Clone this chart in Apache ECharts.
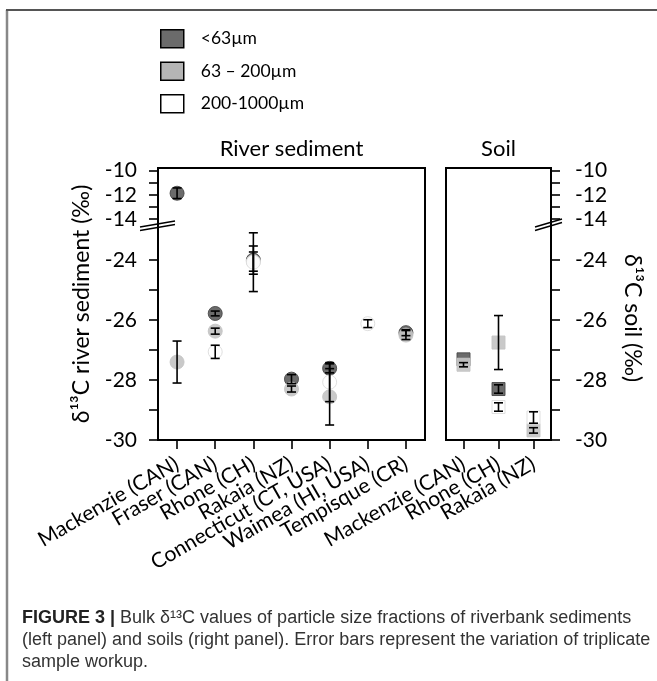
<!DOCTYPE html>
<html>
<head>
<meta charset="utf-8">
<script src="https://cdn.jsdelivr.net/npm/echarts@6/dist/echarts.min.js"></script>
<style>
html, body { margin: 0; padding: 0; background: #fff; }
#main { width: 657px; height: 681px; }
</style>
</head>
<body>
<div id="main"></div>
<script>
var riverCats = ['Mackenzie (CAN)', 'Fraser (CAN)', 'Rhone (CH)', 'Rakaia (NZ)',
    'Connecticut (CT, USA)', 'Waimea (HI, USA)', 'Tempisque (CR)'];
var soilCats = ['Mackenzie (CAN)', 'Rhone (CH)', 'Rakaia (NZ)'];
var fractions = ['<63µm', '63 – 200µm', '200-1000µm'];

// river sediment, mean and error per fraction
var riverFine = [-11.87, -25.78, -24.0, -27.97, -27.61, null, -26.42];
var riverFineErr = [0.44, 0.08, 0.47, 0.15, 0.15, null, 0.1];
var riverMid = [-27.4, -26.37, -24.05, -28.3, -28.56, null, -26.5];
var riverMidErr = [0.7, 0.1, 0.32, 0.1, 0.94, null, 0.15];
var riverCoarse = [null, -27.06, -24.07, null, -28.07, -26.12, null];
var riverCoarseErr = [null, 0.22, 0.98, null, 0.65, 0.13, null];

// soil
var soilFine = [-27.31, -28.3, null];
var soilFineErr = [null, 0.14, null];
var soilMid = [-27.49, -26.75, -29.68];
var soilMidErr = [0.07, 0.9, 0.09];
var soilCoarse = [null, -28.9, -29.25];
var soilCoarseErr = [null, 0.14, 0.19];

var upperTicks = [-14, -13, -12, -11, -10];
var upperLabels = [-14, -12, -10];
var lowerTicks = [-30, -29, -28, -27, -26, -25, -24];
var lowerLabels = [-30, -28, -26, -24];

var FONT = 'Lato, "DejaVu Sans"';
var BREAK = -20;
var colors = ['#5e5e5e', '#c4c4c4', '#ffffff'];
var borders = ['#4a4a4a', '#c4c4c4', '#dcdcdc'];

function points(vals, upper) {
    var out = [];
    vals.forEach(function (v, i) {
        if (v == null) return;
        if ((v > BREAK) === upper) out.push([i, v]);
    });
    return out;
}
function bars(vals, errs, upper) {
    var out = [];
    vals.forEach(function (v, i) {
        if (v == null || errs[i] == null) return;
        if ((v > BREAK) === upper) out.push([i, v - errs[i], v + errs[i]]);
    });
    return out;
}
function renderErr(params, api) {
    var x = api.value(0);
    var a = api.coord([x, api.value(2)]);
    var b = api.coord([x, api.value(1)]);
    var w = 4.5;
    var st = { stroke: '#000', lineWidth: 1.6 };
    return {
        type: 'group',
        children: [
            { type: 'line', shape: { x1: a[0], y1: a[1], x2: b[0], y2: b[1] }, style: st },
            { type: 'line', shape: { x1: a[0] - w, y1: a[1], x2: a[0] + w, y2: a[1] }, style: st },
            { type: 'line', shape: { x1: b[0] - w, y1: b[1], x2: b[0] + w, y2: b[1] }, style: st }
        ]
    };
}

var river = [[riverFine, riverFineErr], [riverMid, riverMidErr], [riverCoarse, riverCoarseErr]];
var soil = [[soilFine, soilFineErr], [soilMid, soilMidErr], [soilCoarse, soilCoarseErr]];

var series = [];
[false, true].forEach(function (isSoil) {
    var set = isSoil ? soil : river;
    [true, false].forEach(function (upper) {
        var idx = (isSoil ? 3 : 0) + (upper ? 1 : 2);
        set.forEach(function (f, k) {
            series.push({
                name: fractions[k],
                type: 'scatter',
                xAxisIndex: idx, yAxisIndex: idx,
                symbol: isSoil ? 'rect' : 'circle',
                symbolSize: isSoil ? 13 : 14,
                itemStyle: { color: colors[k], borderColor: borders[k], borderWidth: 1, opacity: 0.92 },
                z: 2,
                data: points(f[0], upper)
            });
        });
        set.forEach(function (f, k) {
            series.push({
                type: 'custom',
                xAxisIndex: idx, yAxisIndex: idx,
                renderItem: renderErr,
                encode: { x: 0, y: [1, 2] },
                z: 3,
                data: bars(f[0], f[1], upper)
            });
        });
    });
});

var tickStyle = { color: '#000', width: 1.6 };
var labelStyle = { fontFamily: FONT, fontSize: 21, color: '#000' };

function valueAxis(grid, upper, right) {
    return {
        type: 'value', gridIndex: grid,
        position: right ? 'right' : 'left',
        min: upper ? -14.5 : -30,
        max: upper ? -9.78 : -22.83,
        axisLine: { show: false },
        splitLine: { show: false },
        axisTick: { show: true, length: 9, lineStyle: tickStyle, customValues: upper ? upperTicks : lowerTicks },
        axisLabel: Object.assign({ margin: right ? 24 : 21, customValues: upper ? upperLabels : lowerLabels }, labelStyle)
    };
}
function frameY(grid, name, right) {
    return {
        type: 'value', gridIndex: grid, min: 0, max: 1,
        position: right ? 'right' : 'left',
        axisLine: { show: false }, axisTick: { show: false },
        axisLabel: { show: false }, splitLine: { show: false },
        name: name, nameLocation: 'middle',
        nameGap: right ? 70 : 65,
        nameRotate: right ? -90 : 90,
        nameTextStyle: { fontFamily: FONT, fontSize: 23, color: '#000', padding: right ? [0, 0, 0, 28] : 0 }
    };
}
function catAxis(grid, cats, visible) {
    if (!visible) return { type: 'category', gridIndex: grid, data: cats, show: false };
    return {
        type: 'category', gridIndex: grid, data: cats,
        axisLine: { show: false },
        axisTick: { show: true, alignWithLabel: true, interval: 0, length: 9, lineStyle: tickStyle },
        axisLabel: { interval: 0, rotate: 30, margin: 22, fontFamily: FONT, fontSize: 21, color: '#000' }
    };
}

var frameStyle = { show: true, borderColor: '#000', borderWidth: 2, backgroundColor: 'transparent' };
var titleStyle = { fontFamily: FONT, fontSize: 22, fontWeight: 'normal', color: '#000' };

var option = {
    animation: false,
    backgroundColor: '#fff',
    title: [
        { text: 'River sediment', left: 291.5, top: 138, textAlign: 'center', padding: 0, textStyle: titleStyle },
        { text: 'Soil', left: 498.5, top: 138, textAlign: 'center', padding: 0, textStyle: titleStyle }
    ],
    legend: {
        orient: 'vertical', left: 160, top: 29, padding: 0,
        itemWidth: 23, itemHeight: 18, itemGap: 13,
        selectedMode: false,
        textStyle: { fontFamily: FONT, fontSize: 17.5, color: '#000', lineHeight: 18, padding: [0, 0, 0, 12] },
        data: [
            { name: fractions[0], icon: 'rect', itemStyle: { color: '#6b6b6b', borderColor: '#000', borderWidth: 1.5, opacity: 1 } },
            { name: fractions[1], icon: 'rect', itemStyle: { color: '#b5b5b5', borderColor: '#000', borderWidth: 1.5, opacity: 1 } },
            { name: fractions[2], icon: 'rect', itemStyle: { color: '#ffffff', borderColor: '#000', borderWidth: 1.5, opacity: 1 } }
        ]
    },
    grid: [
        Object.assign({ left: 158, top: 168, width: 267, height: 272 }, frameStyle),
        { left: 158, top: 168, width: 267, height: 57 },
        { left: 158, top: 225, width: 267, height: 215 },
        Object.assign({ left: 446, top: 168, width: 105, height: 272 }, frameStyle),
        { left: 446, top: 168, width: 105, height: 57 },
        { left: 446, top: 225, width: 105, height: 215 }
    ],
    xAxis: [
        { type: 'value', gridIndex: 0, show: false },
        catAxis(1, riverCats, false),
        catAxis(2, riverCats, true),
        { type: 'value', gridIndex: 3, show: false },
        catAxis(4, soilCats, false),
        catAxis(5, soilCats, true)
    ],
    yAxis: [
        frameY(0, 'δ¹³C river sediment (‰)', false),
        valueAxis(1, true, false),
        valueAxis(2, false, false),
        frameY(3, 'δ¹³C soil (‰)', true),
        valueAxis(4, true, true),
        valueAxis(5, false, true)
    ],
    graphic: [
        { type: 'line', shape: { x1: 7, y1: 10, x2: 7, y2: 681 }, style: { stroke: '#888', lineWidth: 2.5 } },
        { type: 'line', shape: { x1: 6, y1: 10, x2: 657, y2: 10 }, style: { stroke: '#555', lineWidth: 2 } },
        // axis break marks
        { type: 'line', shape: { x1: 140, y1: 227, x2: 175, y2: 221 }, style: { stroke: '#000', lineWidth: 1.5 }, z: 10 },
        { type: 'line', shape: { x1: 140, y1: 230.5, x2: 175, y2: 224.5 }, style: { stroke: '#000', lineWidth: 1.5 }, z: 10 },
        { type: 'line', shape: { x1: 535, y1: 227, x2: 562, y2: 219 }, style: { stroke: '#000', lineWidth: 1.5 }, z: 10 },
        { type: 'line', shape: { x1: 535, y1: 230.5, x2: 562, y2: 222.5 }, style: { stroke: '#000', lineWidth: 1.5 }, z: 10 },
        {
            type: 'text', left: 22, top: 607,
            style: {
                text: '{b|FIGURE 3 |} Bulk δ¹³C values of particle size fractions of riverbank sediments\n' +
                      '(left panel) and soils (right panel). Error bars represent the variation of triplicate\n' +
                      'sample workup.',
                fontFamily: 'Liberation Sans', fontSize: 18, lineHeight: 22, fill: '#333',
                rich: { b: { fontFamily: 'Liberation Sans', fontSize: 18, fontWeight: 'bold', fill: '#222' } }
            }
        }
    ],
    series: series
};

var myChart = echarts.init(document.getElementById('main'));
myChart.setOption(option);
</script>
</body>
</html>
